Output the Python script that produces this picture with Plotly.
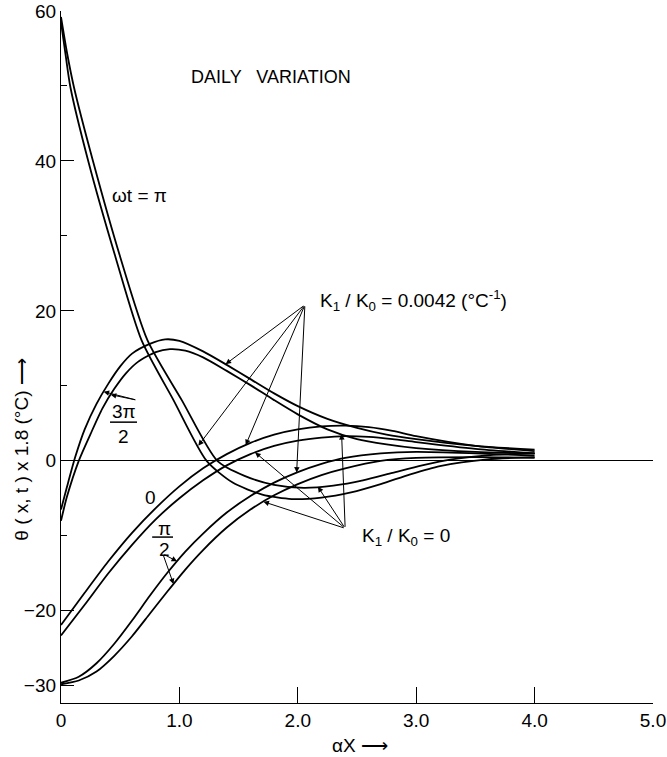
import numpy as np
import plotly.graph_objects as go

# Temperature profiles theta(x, t) x 1.8 versus depth alpha*x, daily cycle.
# Each phase wt has two profiles: K1/K0 = 0.0042 and K1/K0 = 0.

# wt = pi
x_pi_k1 = [0, 0.04, 0.08, 0.23, 0.46, 0.68, 0.95, 1.23, 1.45, 1.7, 1.95, 2.2, 2.45, 2.7, 2.95, 3.2, 3.6, 4.0]
y_pi_k1 = [58.5, 54.0, 49.8, 40.0, 27.2, 16.1, 8.1, 0.0, -2.9, -4.5, -5.1, -4.9, -4.2, -3.1, -1.8, -0.7, 0.2, 0.5]
x_pi_k0 = [0, 0.05, 0.11, 0.27, 0.50, 0.73, 1.02, 1.32, 1.55, 1.8, 2.05, 2.3, 2.55, 2.8, 3.05, 3.3, 3.65, 4.0]
y_pi_k0 = [59.2, 54.5, 49.8, 40.0, 27.2, 16.1, 8.1, 0.0, -2.0, -3.2, -3.6, -3.3, -2.6, -1.6, -0.6, 0.2, 0.8, 1.0]

# wt = 3pi/2
x_3pi2_k1 = [0, 0.05, 0.12, 0.2, 0.3, 0.4, 0.5, 0.6, 0.75, 0.88, 1.0, 1.2, 1.4, 1.6, 1.8, 2.0, 2.25, 2.5, 2.75, 3.0, 3.5, 4.0]
y_3pi2_k1 = [-6.5, -3.5, 0.5, 4.2, 7.6, 10.3, 12.6, 14.3, 15.6, 16.2, 16.0, 14.6, 12.8, 10.9, 9.0, 7.3, 5.6, 4.4, 3.5, 2.9, 2.0, 1.5]
x_3pi2_k0 = [0, 0.05, 0.15, 0.25, 0.35, 0.45, 0.55, 0.65, 0.8, 0.92, 1.05, 1.2, 1.4, 1.6, 1.8, 2.0, 2.25, 2.5, 2.75, 3.0, 3.5, 4.0]
y_3pi2_k0 = [-8.0, -4.8, 0.0, 3.6, 7.0, 9.6, 11.7, 13.2, 14.5, 14.9, 14.7, 13.8, 12.0, 10.1, 8.1, 6.2, 4.2, 2.9, 2.2, 1.7, 1.2, 1.0]

# wt = 0
x_0 = [0, 0.2, 0.4, 0.6, 0.8, 1.0, 1.2, 1.4, 1.6, 1.8, 2.0, 2.2, 2.4, 2.6, 2.8, 3.0, 3.5, 4.0]
y_0_k1 = [-21.9, -17.6, -13.4, -9.6, -6.3, -3.4, -1.0, 0.9, 2.4, 3.5, 4.2, 4.6, 4.7, 4.5, 4.0, 3.3, 2.0, 1.3]
y_0_k0 = [-23.3, -19.2, -15.0, -11.2, -7.8, -5.0, -2.6, -0.6, 0.9, 2.0, 2.7, 3.1, 3.3, 3.2, 2.9, 2.5, 1.6, 1.0]

# wt = pi/2
x_pi2 = [0, 0.15, 0.3, 0.45, 0.6, 0.75, 0.9, 1.05, 1.2, 1.4, 1.6, 1.8, 2.0, 2.2, 2.4, 2.7, 3.0, 3.5, 4.0]
y_pi2_k1 = [-29.6, -28.8, -27.0, -24.4, -21.3, -18.0, -14.9, -12.1, -9.7, -6.9, -4.7, -2.9, -1.5, -0.4, 0.4, 1.0, 1.2, 1.0, 0.7]
y_pi2_k0 = [-29.8, -29.3, -28.1, -26.0, -23.4, -20.4, -17.4, -14.5, -11.9, -8.9, -6.5, -4.6, -3.1, -1.9, -1.0, 0.0, 0.4, 0.5, 0.4]

x_ticks = [0, 1, 2, 3, 4, 5]
x_tick_text = ["0", "1.0", "2.0", "3.0", "4.0", "5.0"]
y_ticks = [-30, -20, 0, 20, 40, 60]
y_minor_ticks = [-10, 10, 30, 50]

profiles = {
    "ωt = π, K1/K0 = 0.0042": (x_pi_k1, y_pi_k1),
    "ωt = π, K1/K0 = 0": (x_pi_k0, y_pi_k0),
    "ωt = 3π/2, K1/K0 = 0.0042": (x_3pi2_k1, y_3pi2_k1),
    "ωt = 3π/2, K1/K0 = 0": (x_3pi2_k0, y_3pi2_k0),
    "ωt = 0, K1/K0 = 0.0042": (x_0, y_0_k1),
    "ωt = 0, K1/K0 = 0": (x_0, y_0_k0),
    "ωt = π/2, K1/K0 = 0.0042": (x_pi2, y_pi2_k1),
    "ωt = π/2, K1/K0 = 0": (x_pi2, y_pi2_k0),
}

FONT = "Liberation Sans"
INK = "black"

fig = go.Figure()
for name, (xs, ys) in profiles.items():
    fig.add_trace(go.Scatter(
        x=xs, y=ys, mode="lines", name=name,
        line=dict(color=INK, width=1.8, shape="spline", smoothing=0.7),
        showlegend=False, hoverinfo="skip",
    ))


def on_curve(key, xv):
    xs, ys = profiles[key]
    return xv, float(np.interp(xv, xs, ys))


def pointer(tail, key, xv, head=2):
    tx, ty = on_curve(key, xv)
    fig.add_annotation(
        x=tx, y=ty, ax=tail[0], ay=tail[1], xref="x", yref="y", axref="x", ayref="y",
        text="", showarrow=True, arrowhead=head, arrowsize=1.1, arrowwidth=1.0,
        arrowcolor=INK, standoff=0,
    )


# pointers from the conductivity labels
tail_k1 = (2.06, 20.8)
for key, xv in [("ωt = 3π/2, K1/K0 = 0.0042", 1.39), ("ωt = π, K1/K0 = 0.0042", 1.16),
                ("ωt = 0, K1/K0 = 0.0042", 1.56), ("ωt = π/2, K1/K0 = 0.0042", 1.99)]:
    pointer(tail_k1, key, xv)

tail_k0 = (2.40, -9.0)
for key, xv in [("ωt = 0, K1/K0 = 0", 1.64), ("ωt = π/2, K1/K0 = 0", 1.71),
                ("ωt = π, K1/K0 = 0", 2.17), ("ωt = 3π/2, K1/K0 = 0", 2.37)]:
    pointer(tail_k0, key, xv)

# pointers from the phase labels
pointer((0.64, 8.1), "ωt = 3π/2, K1/K0 = 0", 0.42)
pointer((0.64, 8.1), "ωt = 3π/2, K1/K0 = 0.0042", 0.36)
pointer((0.86, -12.4), "ωt = π/2, K1/K0 = 0.0042", 0.98)
pointer((0.86, -12.4), "ωt = π/2, K1/K0 = 0", 0.95)


def label(x, y, text, size=19, xanchor="center", ref="", **kw):
    fig.add_annotation(x=x, y=y, xref="x" if not ref else ref, yref="y" if not ref else ref,
                       text=text, showarrow=False, xanchor=xanchor, yanchor="middle",
                       font=dict(family=FONT, size=size, color=INK), **kw)


label(1.774, 51.2, "DAILY   VARIATION", size=18)
label(0.414, 35.4, "ωt = π", xanchor="left")
label(0.532, 6.6, "3π")
label(0.524, 3.2, "2")
label(0.76, -4.85, "0")
label(0.878, -9.0, "π")
label(0.87, -11.8, "2")
label(2.17, 21.4, "K<sub>1</sub> / K<sub>0</sub> = 0.0042 (°C<sup>-1</sup>)", size=19, xanchor="left")
label(2.525, -10.2, "K<sub>1</sub> / K<sub>0</sub> = 0", size=19, xanchor="left")

# fraction bars
fig.add_shape(type="line", xref="x", yref="y", x0=0.414, x1=0.642, y0=5.16, y1=5.16,
              line=dict(color=INK, width=1.5))
fig.add_shape(type="line", xref="x", yref="y", x0=0.77, x1=0.946, y0=-10.17, y1=-10.17,
              line=dict(color=INK, width=1.5))

# axis titles
label(-0.066, 0.366, "θ ( x, t ) x 1.8 (°C) ⟶", size=19, ref="paper", textangle=-90)
label(0.505, -0.061, "αX ⟶", size=19, ref="paper")

fig.update_layout(
    width=667, height=757,
    margin=dict(l=61, r=14, t=11, b=54),
    paper_bgcolor="white", plot_bgcolor="white",
    font=dict(family=FONT, size=18, color=INK),
    xaxis=dict(
        range=[0, 5], showgrid=False, zeroline=False, automargin=False,
        showline=True, linecolor=INK, linewidth=1.2,
        ticks="inside", ticklen=16, tickwidth=1.2, tickcolor=INK,
        tickmode="array", tickvals=x_ticks, ticktext=x_tick_text,
        tickfont=dict(family=FONT, size=19, color=INK),
    ),
    yaxis=dict(
        range=[-32.3, 60], showgrid=False, automargin=False,
        zeroline=True, zerolinecolor=INK, zerolinewidth=1,
        showline=True, linecolor=INK, linewidth=1.2,
        ticks="inside", ticklen=13, tickwidth=1.2, tickcolor=INK,
        tickmode="array", tickvals=y_ticks,
        tickfont=dict(family=FONT, size=19, color=INK),
        minor=dict(tickmode="array", tickvals=y_minor_ticks, ticks="inside",
                   ticklen=6, tickwidth=1.2, tickcolor=INK),
    ),
)

fig.write_html("out.html")
